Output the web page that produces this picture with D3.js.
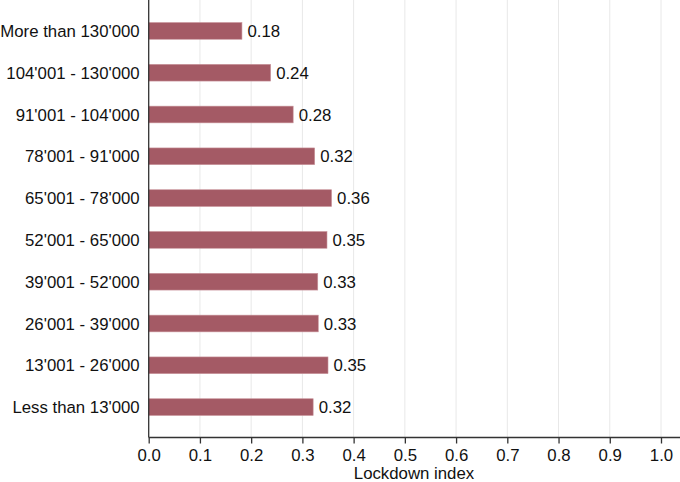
<!DOCTYPE html>
<html>
<head>
<meta charset="utf-8">
<script src="https://cdn.jsdelivr.net/npm/d3@7"></script>
<style>
  body { margin: 0; background: #fff; }
  text { font-family: "Liberation Sans", Arial, sans-serif; fill: #111; }
</style>
</head>
<body>
<svg id="chart" width="680" height="482"></svg>
<script>
// income brackets, top to bottom
const categories = [
    "More than 130'000",
    "104'001 - 130'000",
    "91'001 - 104'000",
    "78'001 - 91'000",
    "65'001 - 78'000",
    "52'001 - 65'000",
    "39'001 - 52'000",
    "26'001 - 39'000",
    "13'001 - 26'000",
    "Less than 13'000"
];
// labels show two decimals
const values = [0.182, 0.238, 0.282, 0.324, 0.357, 0.348, 0.330, 0.331, 0.350, 0.321];
const xTicks = [0, 0.1, 0.2, 0.3, 0.4, 0.5, 0.6, 0.7, 0.8, 0.9, 1.0];

const svg = d3.select('#chart');
const plotLeft = 148.7, plotRight = 680, plotTop = 0, plotBottom = 437.5;
const fontSize = 16.8;

const x = d3.scaleLinear().domain([0, 1]).range([plotLeft, 661]);
const y = d3.scaleBand().domain(categories).range([10, 428])
    .paddingInner(0.6).paddingOuter(0.3);

// vertical gridlines
svg.append('g').selectAll('line')
    .data(xTicks.slice(1))
    .enter().append('line')
    .attr('x1', d => x(d)).attr('x2', d => x(d))
    .attr('y1', plotTop).attr('y2', plotBottom)
    .attr('stroke', '#e8e8e8').attr('stroke-width', 1);

// bars
svg.append('g').selectAll('rect')
    .data(values)
    .enter().append('rect')
    .attr('x', x(0))
    .attr('y', (d, i) => y(categories[i]))
    .attr('width', d => x(d) - x(0))
    .attr('height', y.bandwidth())
    .attr('fill', '#a45a65')
    .attr('stroke', '#c8949b').attr('stroke-width', 0.6);

// value labels
svg.append('g').selectAll('text')
    .data(values)
    .enter().append('text')
    .attr('x', d => x(d) + 5.5)
    .attr('y', (d, i) => y(categories[i]) + y.bandwidth() / 2)
    .attr('dy', '0.36em')
    .attr('font-size', fontSize)
    .text(d => d.toFixed(2));

// category labels
svg.append('g').selectAll('text')
    .data(categories)
    .enter().append('text')
    .attr('x', plotLeft - 9)
    .attr('y', d => y(d) + y.bandwidth() / 2)
    .attr('dy', '0.36em')
    .attr('text-anchor', 'end')
    .attr('font-size', fontSize)
    .text(d => d);

// axes lines
svg.append('line')
    .attr('x1', plotLeft).attr('x2', plotLeft).attr('y1', plotTop).attr('y2', plotBottom)
    .attr('stroke', '#333').attr('stroke-width', 1.3);

const xAxis = svg.append('g')
    .attr('transform', `translate(0,${plotBottom})`)
    .call(d3.axisBottom(x).tickValues(xTicks).tickFormat(d3.format('.1f'))
        .tickSizeOuter(0).tickSize(6).tickPadding(6));
xAxis.select('.domain').attr('d', `M${plotLeft},0H${plotRight}`).attr('stroke', '#333').attr('stroke-width', 1.3);
xAxis.selectAll('.tick line').attr('stroke', '#333').attr('stroke-width', 1.3);
xAxis.selectAll('.tick text').attr('font-size', fontSize).attr('font-family', '"Liberation Sans", Arial, sans-serif').attr('fill', '#111');

svg.append('text')
    .attr('x', 414).attr('y', 479)
    .attr('text-anchor', 'middle')
    .attr('font-size', fontSize)
    .text('Lockdown index');
</script>
</body>
</html>
